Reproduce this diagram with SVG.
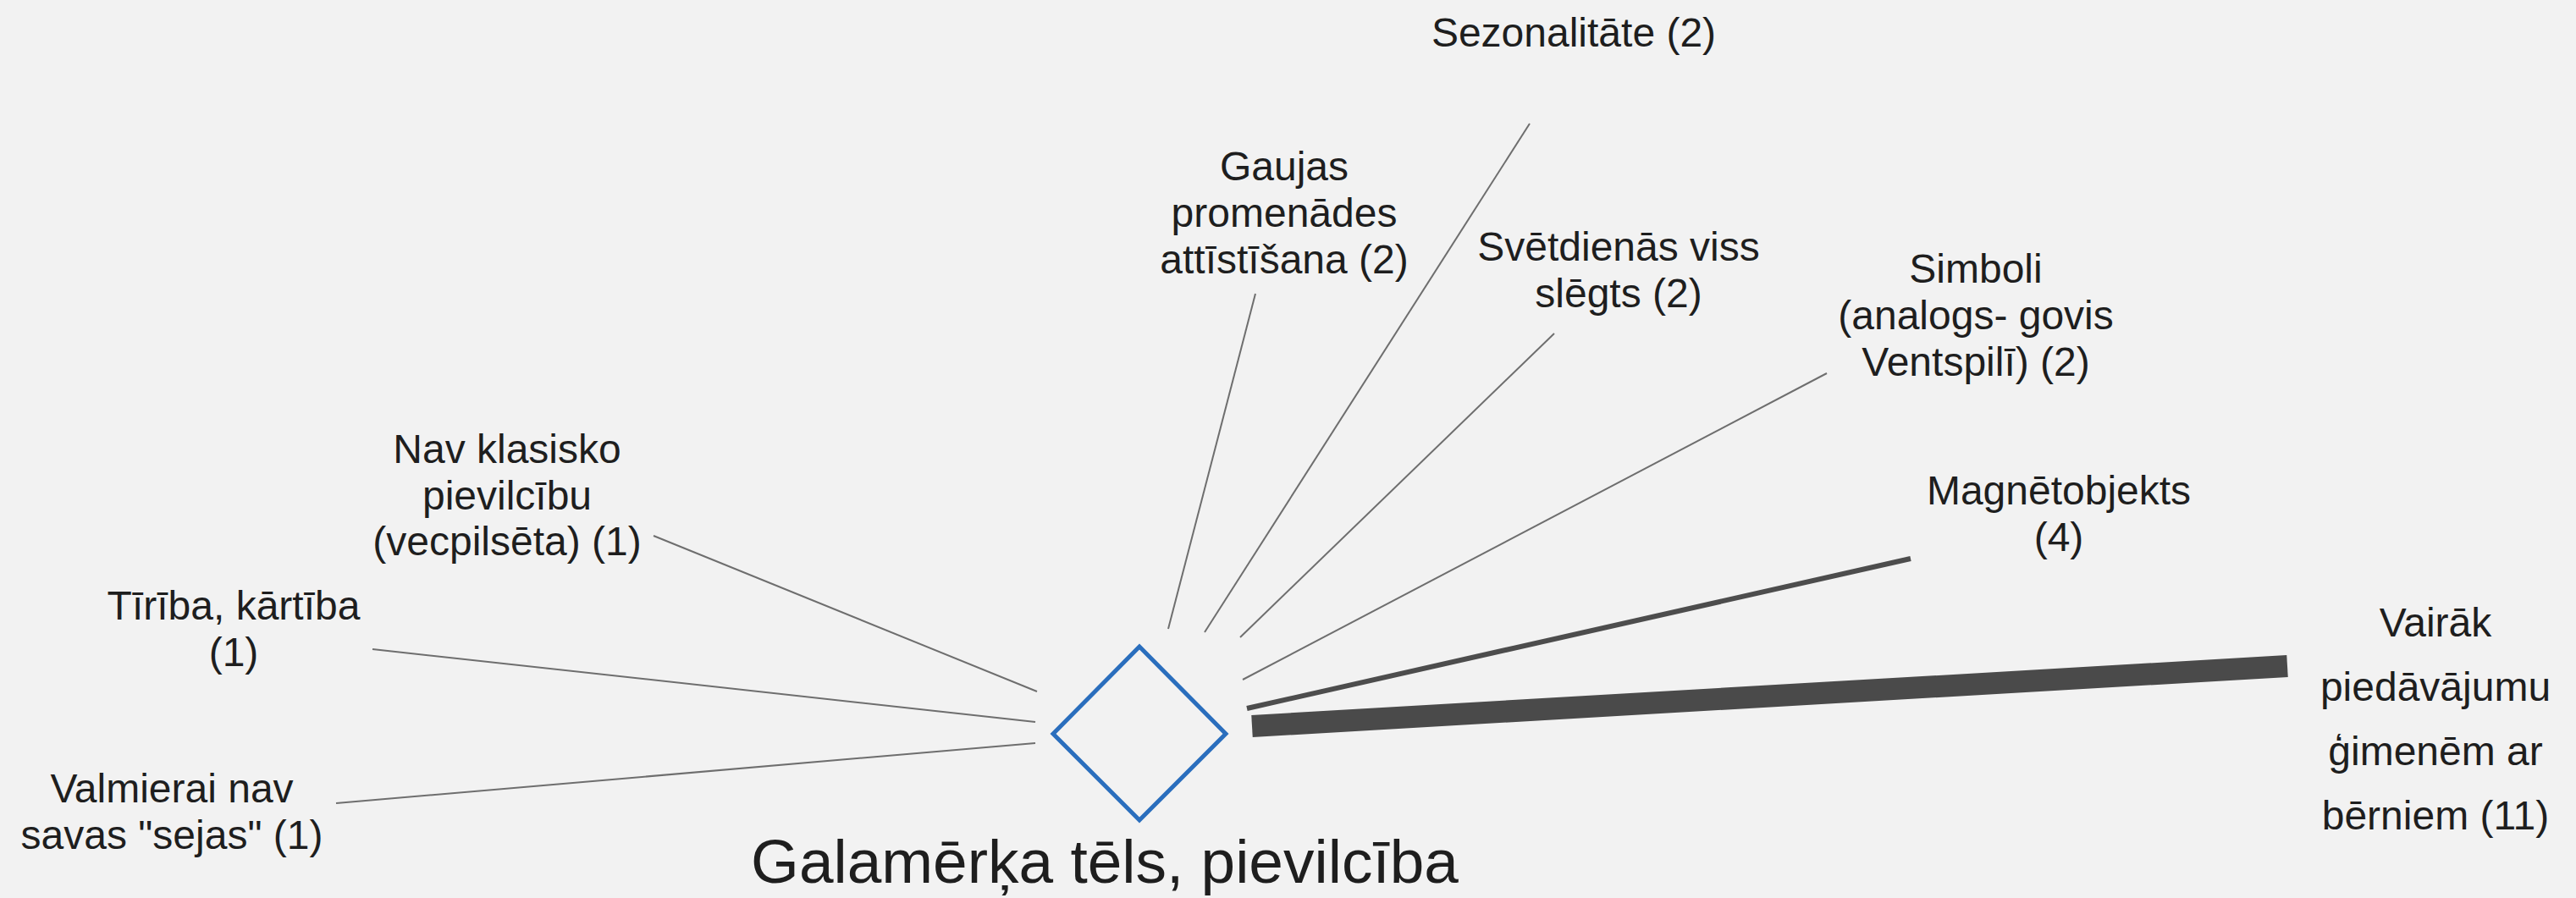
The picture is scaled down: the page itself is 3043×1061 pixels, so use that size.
<svg xmlns="http://www.w3.org/2000/svg" width="3043" height="1061" viewBox="0 0 3043 1061">
<style>
.lbl{font-family:"Liberation Sans",Arial,sans-serif;font-size:48px;fill:#1e1e1e;text-anchor:middle}
.main{font-family:"Liberation Sans",Arial,sans-serif;font-size:73px;fill:#1e1e1e;text-anchor:middle}
.thin{stroke:#6e6e6e;stroke-width:2;fill:none}
.mid{stroke:#4d4d4d;stroke-width:6;fill:none}
.thick{stroke:#4a4a4a;stroke-width:26;fill:none}
</style>
<rect x="0" y="0" width="3043" height="1061" fill="#f2f2f2"/>
<g id="connectors" stroke-linecap="butt">
<line class="thin" x1="1807" y1="146" x2="1423" y2="747"/>
<line class="thin" x1="1483" y1="347" x2="1380" y2="743"/>
<line class="thin" x1="1836" y1="394" x2="1465" y2="753"/>
<line class="thin" x1="2158" y1="441" x2="1468" y2="803"/>
<line class="mid" x1="2257" y1="660" x2="1473" y2="837"/>
<line class="thick" x1="2702" y1="787" x2="1479" y2="858"/>
<line class="thin" x1="772" y1="633" x2="1225" y2="817"/>
<line class="thin" x1="440" y1="767" x2="1223" y2="853"/>
<line class="thin" x1="397" y1="949" x2="1223" y2="878"/>
</g>
<g id="center">
<path d="M1346 764 L1448 867 L1346 969 L1244 867 Z" fill="none" stroke="#2a6ebd" stroke-width="5" stroke-linejoin="miter"/>
<text class="main" x="1305" y="1043">Galamērķa tēls, pievilcība</text>
</g>
<g id="n-sezonalitate"><text class="lbl" x="1859" y="55">Sezonalitāte (2)</text></g>
<g id="n-gaujas"><text class="lbl" x="1517" y="213">Gaujas</text><text class="lbl" x="1517" y="268">promenādes</text><text class="lbl" x="1517" y="323">attīstīšana (2)</text></g>
<g id="n-svetdienas"><text class="lbl" x="1912" y="308">Svētdienās viss</text><text class="lbl" x="1912" y="363">slēgts (2)</text></g>
<g id="n-simboli"><text class="lbl" x="2334" y="334">Simboli</text><text class="lbl" x="2334" y="389">(analogs- govis</text><text class="lbl" x="2334" y="444">Ventspilī) (2)</text></g>
<g id="n-magnetobjekts"><text class="lbl" x="2432" y="596">Magnētobjekts</text><text class="lbl" x="2432" y="651">(4)</text></g>
<g id="n-vairak"><text class="lbl" x="2877" y="752">Vairāk</text><text class="lbl" x="2877" y="828">piedāvājumu</text><text class="lbl" x="2877" y="904">ģimenēm ar</text><text class="lbl" x="2877" y="980">bērniem (11)</text></g>
<g id="n-nav-klasisko"><text class="lbl" x="599" y="547">Nav klasisko</text><text class="lbl" x="599" y="602">pievilcību</text><text class="lbl" x="599" y="656">(vecpilsēta) (1)</text></g>
<g id="n-tiriba"><text class="lbl" x="276" y="732">Tīrība, kārtība</text><text class="lbl" x="276" y="787">(1)</text></g>
<g id="n-valmierai"><text class="lbl" x="203" y="948">Valmierai nav</text><text class="lbl" x="203" y="1003">savas "sejas" (1)</text></g>
</svg>
